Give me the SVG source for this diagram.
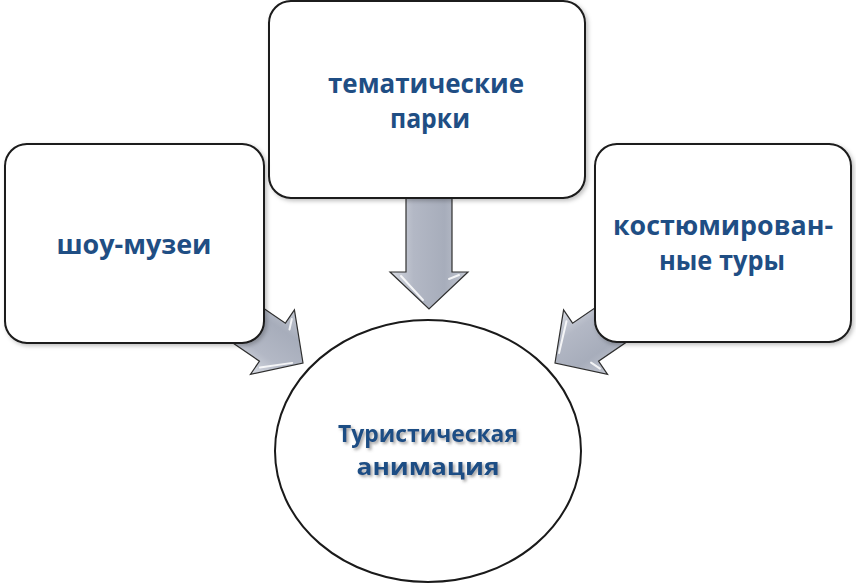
<svg xmlns="http://www.w3.org/2000/svg" width="856" height="587" viewBox="0 0 856 587">
<style>
.box{fill:#ffffff;stroke:#1a1a1a;stroke-width:2;filter:url(#sh)}
.lbl{font-family:"Open Sans","Noto Sans","DejaVu Sans",sans-serif;font-weight:700;fill:#1f4e84;text-anchor:middle}
.big{font-size:27px}
.mid{font-size:24px;filter:url(#tsh)}
.arr{fill:url(#ag);stroke:#2f2f2f;stroke-width:1.2;stroke-linejoin:miter}
.hl{fill:none;stroke:#ffffff;stroke-opacity:0.85;stroke-width:2;stroke-linecap:round}
</style>
<defs>
<filter id="sh" x="-10%" y="-10%" width="130%" height="130%">
<feDropShadow dx="2" dy="2" stdDeviation="2" flood-color="#000" flood-opacity="0.25"/>
</filter>
<filter id="tsh" x="-10%" y="-30%" width="130%" height="170%">
<feDropShadow dx="2" dy="2" stdDeviation="1.5" flood-color="#555" flood-opacity="0.55"/>
</filter>
<linearGradient id="ag" gradientUnits="userSpaceOnUse" x1="-39" y1="0" x2="39" y2="0">
<stop offset="0" stop-color="#d9dce3"/>
<stop offset="0.3" stop-color="#b3b8c5"/>
<stop offset="0.7" stop-color="#a7adbb"/>
<stop offset="1" stop-color="#c3c7d1"/>
</linearGradient>
<g id="arrow">
<polygon class="arr" points="-23,-125 23,-125 23,-37 39,-37 0,0 -39,-37 -23,-37"/>
<polyline class="hl" points="-28,-33 -6,-9"/>
<polyline class="hl" points="20,-30 30,-34"/>
</g>
</defs>
<g id="connectors">
<use href="#arrow" transform="translate(429,309)"/>
<use href="#arrow" transform="translate(303,363) rotate(-55.7)"/>
<use href="#arrow" transform="translate(555,363) rotate(55.7)"/>
</g>
<g id="node-top">
<rect class="box" x="269" y="1" width="316" height="197" rx="22"/>
<text class="lbl big" x="426" y="93" textLength="196" lengthAdjust="spacingAndGlyphs">тематические</text>
<text class="lbl big" x="430" y="128" textLength="80" lengthAdjust="spacingAndGlyphs">парки</text>
</g>
<g id="node-left">
<rect class="box" x="5" y="144" width="259" height="199" rx="22"/>
<text class="lbl big" x="134" y="254" textLength="155" lengthAdjust="spacingAndGlyphs">шоу-музеи</text>
</g>
<g id="node-right">
<rect class="box" x="595" y="144" width="256" height="198" rx="22"/>
<text class="lbl big" x="723" y="235" textLength="220" lengthAdjust="spacingAndGlyphs">костюмирован-</text>
<text class="lbl big" x="722" y="270" textLength="126" lengthAdjust="spacingAndGlyphs">ные туры</text>
</g>
<g id="node-center">
<ellipse cx="428" cy="451" rx="153" ry="131" fill="#ffffff" stroke="#1a1a1a" stroke-width="2"/>
<text class="lbl mid" x="428" y="442" textLength="180" lengthAdjust="spacingAndGlyphs">Туристическая</text>
<text class="lbl mid" x="428" y="475" textLength="143" lengthAdjust="spacingAndGlyphs">анимация</text>
</g>
</svg>
